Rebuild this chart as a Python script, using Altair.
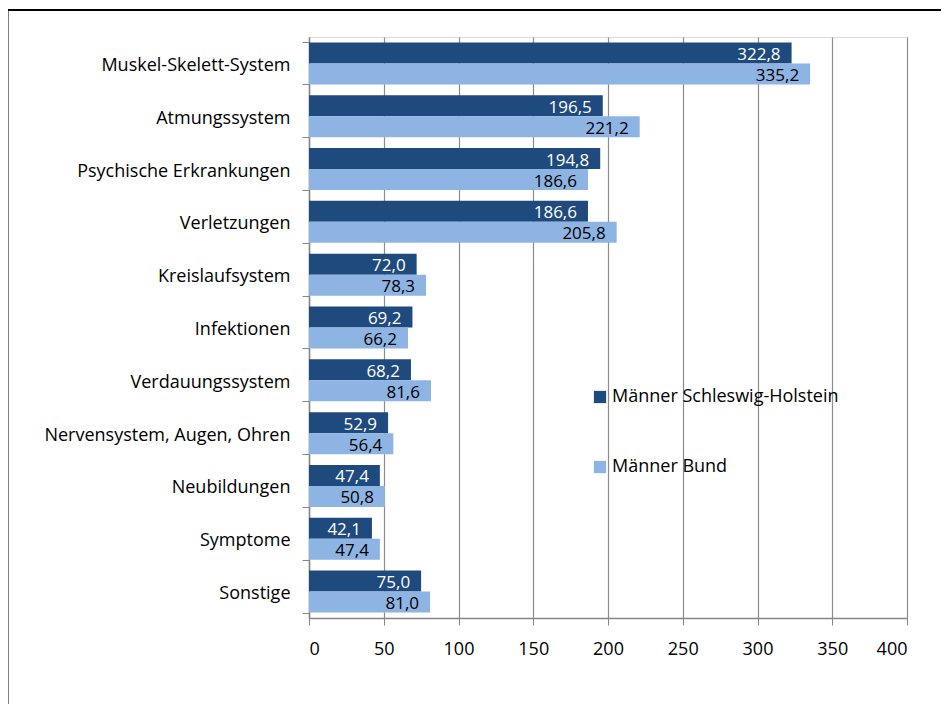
import altair as alt
import pandas as pd

categories = [
    "Muskel-Skelett-System", "Atmungssystem", "Psychische Erkrankungen",
    "Verletzungen", "Kreislaufsystem", "Infektionen", "Verdauungssystem",
    "Nervensystem, Augen, Ohren", "Neubildungen", "Symptome", "Sonstige",
]
sh_values = [322.8, 196.5, 194.8, 186.6, 72.0, 69.2, 68.2, 52.9, 47.4, 42.1, 75.0]
bund_values = [335.2, 221.2, 186.6, 205.8, 78.3, 66.2, 81.6, 56.4, 50.8, 47.4, 81.0]
series = ["Männer Schleswig-Holstein", "Männer Bund"]
colors = ["#1F4A7E", "#8EB4E3"]
x_ticks = [0, 50, 100, 150, 200, 250, 300, 350, 400]

rows = []
for c, a, b in zip(categories, sh_values, bund_values):
    rows.append({"cat": c, "series": series[0], "value": a,
                 "label": f"{a:.1f}".replace(".", ","), "tcol": "white"})
    rows.append({"cat": c, "series": series[1], "value": b,
                 "label": f"{b:.1f}".replace(".", ","), "tcol": "black"})
df = pd.DataFrame(rows)

FONT = "Open Sans"
FS = 18
W, H = 598, 581

y_enc = alt.Y("cat:N", sort=categories, title=None,
              scale=alt.Scale(paddingInner=0.205, paddingOuter=0.1025),
              axis=alt.Axis(tickBand="extent", domainColor="#868686", tickColor="#868686",
                            tickSize=7, labelPadding=12, labelFontSize=FS, labelLimit=400,
                            labelColor="black", labelFont=FONT, domainWidth=1.5,
                            labelOffset=2))
x_enc = alt.X("value:Q", title=None,
              scale=alt.Scale(domain=[0, 400], nice=False),
              axis=alt.Axis(values=x_ticks, grid=True, gridColor="#8C8C8C", gridWidth=1.2,
                            domainColor="#868686", tickColor="#868686", tickSize=7,
                            labelPadding=15, labelFontSize=FS, labelColor="black",
                            labelFont=FONT, domainWidth=1.5))
yoff = alt.YOffset("series:N", sort=series)

bars = alt.Chart(df).mark_bar().encode(
    x=x_enc, y=y_enc, yOffset=yoff,
    color=alt.Color("series:N", sort=series,
                    scale=alt.Scale(domain=series, range=colors),
                    legend=alt.Legend(title=None, orient="none", legendX=282, legendY=351,
                                      symbolType="square", symbolSize=150,
                                      symbolStrokeWidth=0, labelFontSize=FS,
                                      labelFont=FONT, labelColor="black",
                                      rowPadding=52, labelLimit=400, labelOffset=3)),
)

texts = alt.Chart(df).mark_text(align="right", baseline="middle", dx=-11, dy=2,
                                fontSize=17, font=FONT).encode(
    x=alt.X("value:Q"), y=alt.Y("cat:N", sort=categories), yOffset=yoff,
    text="label:N",
    color=alt.Color("tcol:N", scale=None),
)

frame = alt.Data(values=[{}])
border_top = alt.Chart(frame).mark_rule(color="black", strokeWidth=2).encode(
    x=alt.value(-302), x2=alt.value(632), y=alt.value(-27)
)
border_left = alt.Chart(frame).mark_rule(color="black", strokeWidth=2).encode(
    x=alt.value(-301.5), y=alt.value(-28), y2=alt.value(670)
)

chart = alt.layer(border_top, border_left, bars, texts).properties(
    width=W, height=H,
    autosize=alt.AutoSizeParams(type="none"),
    padding={"left": 301, "top": 29, "right": 34, "bottom": 86},
).configure_view(stroke=None).configure(background="white")

chart.save("out.html", embed_options={"renderer": "svg", "actions": False})
